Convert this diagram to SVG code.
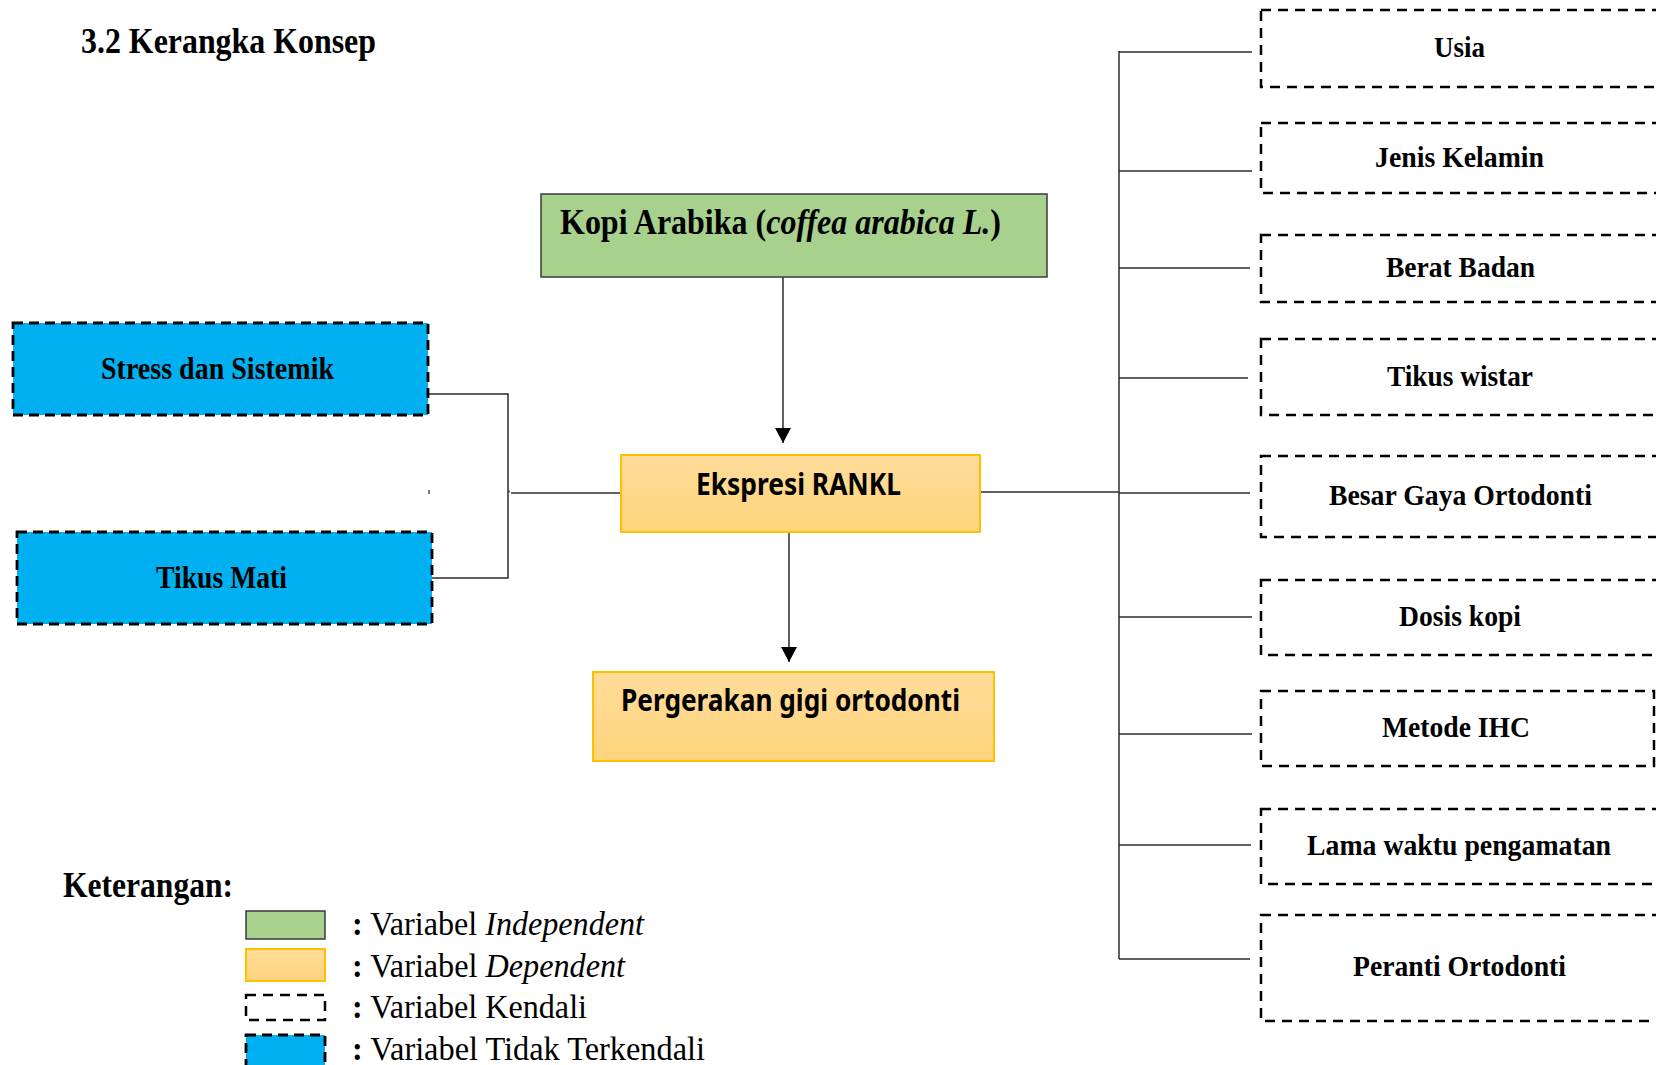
<svg xmlns="http://www.w3.org/2000/svg" width="1656" height="1065" viewBox="0 0 1656 1065">
<style>
.tb{font-family:"Liberation Serif","Times New Roman",serif;font-weight:bold;fill:#000}
.tr{font-family:"Liberation Serif","Times New Roman",serif;fill:#000}
.sb{font-family:"Noto Sans","Open Sans",sans-serif;font-weight:bold;fill:#000}
.ctl{fill:none;stroke:#000;stroke-width:2.5;stroke-dasharray:10 7}
.unc{fill:#00B0F0;stroke:#000;stroke-width:2.8;stroke-dasharray:10 6}
.ind{fill:#A9D18E;stroke:#3A3A3A;stroke-width:1.5}
.dep{fill:url(#og);stroke:#FFC000;stroke-width:2}
.ln{fill:none;stroke:#2b2b2b;stroke-width:1.5}
</style>
<defs>
<linearGradient id="og" x1="0" y1="0" x2="0" y2="1">
<stop offset="0" stop-color="#FFDC9A"/>
<stop offset="1" stop-color="#FFD47C"/>
</linearGradient>
<marker id="ah" markerWidth="15" markerHeight="16" refX="10" refY="5" orient="auto" markerUnits="userSpaceOnUse" viewBox="0 0 10 10" preserveAspectRatio="none">
<path d="M0,0 L10,5 L0,10 z" fill="#000"/>
</marker>
</defs>
<rect width="1656" height="1065" fill="#fff"/>

<text class="tb" x="81" y="53" font-size="35" textLength="295" lengthAdjust="spacingAndGlyphs">3.2 Kerangka Konsep</text>

<g id="connectors">
<line class="ln" x1="783" y1="277" x2="783" y2="443" marker-end="url(#ah)"/>
<line class="ln" x1="789" y1="532" x2="789" y2="662" marker-end="url(#ah)"/>
<polyline class="ln" points="428,394 508,394 508,578 432,578"/>
<line class="ln" x1="511" y1="493" x2="621" y2="493"/>
<line x1="508" y1="491.5" x2="510" y2="491.5" stroke="#555" stroke-width="2"/>
<line x1="429" y1="490" x2="429" y2="494" stroke="#555" stroke-width="1.5"/>
<line class="ln" x1="980" y1="492" x2="1119" y2="492"/>
<line class="ln" x1="1119" y1="51" x2="1119" y2="959"/>
<line class="ln" x1="1119" y1="52" x2="1252" y2="52"/>
<line class="ln" x1="1119" y1="171" x2="1252" y2="171"/>
<line class="ln" x1="1119" y1="268" x2="1250" y2="268"/>
<line class="ln" x1="1119" y1="378" x2="1248" y2="378"/>
<line class="ln" x1="1119" y1="493" x2="1250" y2="493"/>
<line class="ln" x1="1119" y1="617" x2="1252" y2="617"/>
<line class="ln" x1="1119" y1="734" x2="1252" y2="734"/>
<line class="ln" x1="1119" y1="845" x2="1251" y2="845"/>
<line class="ln" x1="1119" y1="959" x2="1250" y2="959"/>
</g>

<g id="kopi">
<rect class="ind" x="541" y="194" width="506" height="83"/>
<text class="tb" x="560" y="234" font-size="35" textLength="441" lengthAdjust="spacingAndGlyphs">Kopi Arabika (<tspan font-style="italic">coffea arabica L.</tspan>)</text>
</g>

<g id="rankl">
<rect class="dep" x="621" y="455" width="359" height="77"/>
<text class="sb" x="696" y="495" font-size="30" textLength="205" lengthAdjust="spacingAndGlyphs">Ekspresi RANKL</text>
</g>

<g id="pergerakan">
<rect class="dep" x="593" y="672" width="401" height="89"/>
<text class="sb" x="621" y="711" font-size="30" textLength="339" lengthAdjust="spacingAndGlyphs">Pergerakan gigi ortodonti</text>
</g>

<g id="stress">
<rect class="unc" x="13" y="323" width="415" height="92"/>
<text class="tb" x="101" y="379" font-size="32" textLength="233" lengthAdjust="spacingAndGlyphs">Stress dan Sistemik</text>
</g>

<g id="tikusmati">
<rect class="unc" x="17" y="532" width="415" height="92"/>
<text class="tb" x="156" y="588" font-size="32" textLength="131" lengthAdjust="spacingAndGlyphs">Tikus Mati</text>
</g>

<g id="usia">
<rect class="ctl" x="1261" y="10" width="430" height="77"/>
<text class="tb" x="1434" y="57" font-size="30" textLength="51" lengthAdjust="spacingAndGlyphs">Usia</text>
</g>
<g id="jenis">
<rect class="ctl" x="1261" y="123" width="430" height="70"/>
<text class="tb" x="1375" y="167" font-size="30" textLength="169" lengthAdjust="spacingAndGlyphs">Jenis Kelamin</text>
</g>
<g id="berat">
<rect class="ctl" x="1261" y="235" width="430" height="67"/>
<text class="tb" x="1386" y="277" font-size="30" textLength="149" lengthAdjust="spacingAndGlyphs">Berat Badan</text>
</g>
<g id="wistar">
<rect class="ctl" x="1261" y="339" width="430" height="76"/>
<text class="tb" x="1387" y="386" font-size="30" textLength="146" lengthAdjust="spacingAndGlyphs">Tikus wistar</text>
</g>
<g id="gaya">
<rect class="ctl" x="1261" y="456" width="430" height="81"/>
<text class="tb" x="1329" y="505" font-size="30" textLength="263" lengthAdjust="spacingAndGlyphs">Besar Gaya Ortodonti</text>
</g>
<g id="dosis">
<rect class="ctl" x="1261" y="580" width="430" height="75"/>
<text class="tb" x="1399" y="626" font-size="30" textLength="122" lengthAdjust="spacingAndGlyphs">Dosis kopi</text>
</g>
<g id="ihc">
<rect class="ctl" x="1261" y="691" width="393" height="75"/>
<text class="tb" x="1382" y="737" font-size="30" textLength="148" lengthAdjust="spacingAndGlyphs">Metode IHC</text>
</g>
<g id="lama">
<rect class="ctl" x="1261" y="809" width="430" height="75"/>
<text class="tb" x="1307" y="855" font-size="30" textLength="304" lengthAdjust="spacingAndGlyphs">Lama waktu pengamatan</text>
</g>
<g id="peranti">
<rect class="ctl" x="1261" y="915" width="430" height="106"/>
<text class="tb" x="1353" y="976" font-size="30" textLength="213" lengthAdjust="spacingAndGlyphs">Peranti Ortodonti</text>
</g>

<g id="legend">
<text class="tb" x="63" y="897" font-size="35" textLength="170" lengthAdjust="spacingAndGlyphs">Keterangan:</text>
<rect class="ind" x="246" y="911" width="79" height="28"/>
<rect class="dep" x="246" y="949" width="79" height="32"/>
<rect class="ctl" x="246" y="995" width="79" height="25"/>
<rect class="unc" x="246" y="1035" width="79" height="34"/>
<text class="tr" x="352" y="935" font-size="34" textLength="292" lengthAdjust="spacingAndGlyphs"><tspan font-weight="bold">:</tspan> Variabel <tspan font-style="italic">Independent</tspan></text>
<text class="tr" x="352" y="977" font-size="34" textLength="273" lengthAdjust="spacingAndGlyphs"><tspan font-weight="bold">:</tspan> Variabel <tspan font-style="italic">Dependent</tspan></text>
<text class="tr" x="352" y="1018" font-size="34" textLength="235" lengthAdjust="spacingAndGlyphs"><tspan font-weight="bold">:</tspan> Variabel Kendali</text>
<text class="tr" x="352" y="1060" font-size="34" textLength="353" lengthAdjust="spacingAndGlyphs"><tspan font-weight="bold">:</tspan> Variabel Tidak Terkendali</text>
</g>
</svg>
